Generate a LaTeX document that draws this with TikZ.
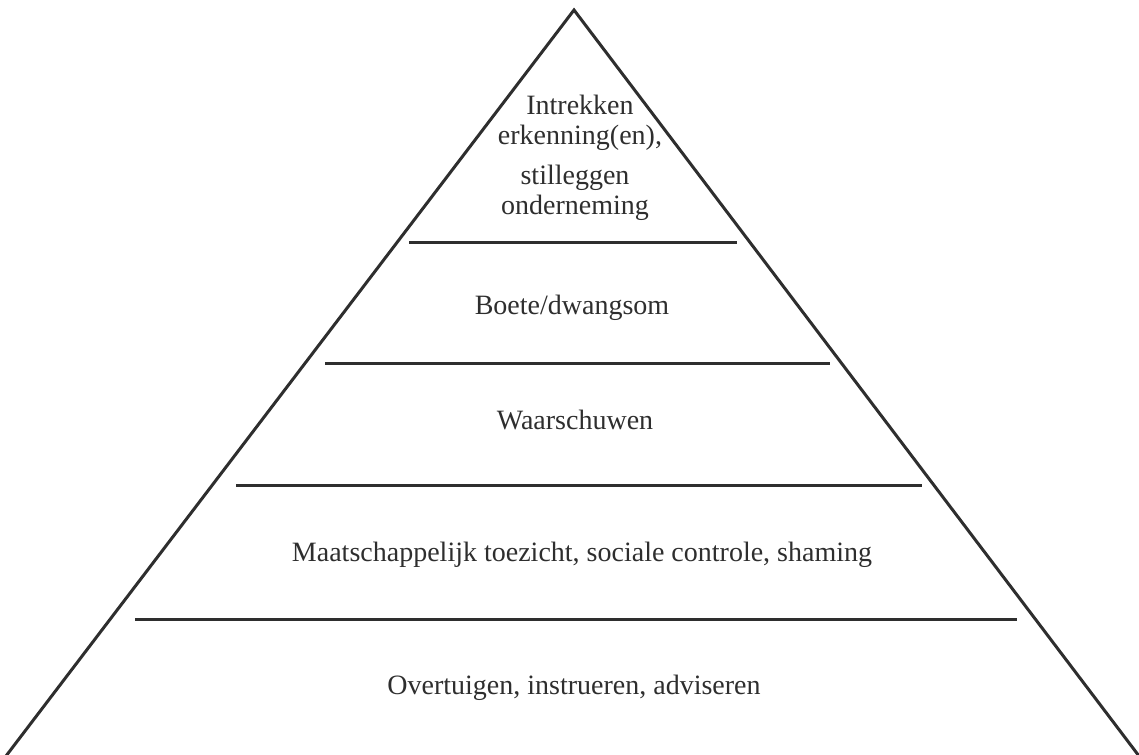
\documentclass[tikz,border=0pt]{standalone}
\usepackage{fontspec}
\setmainfont{Liberation Serif}
\definecolor{ink}{HTML}{2E2E2E}
\begin{document}
\begin{tikzpicture}[x=1pt,y=-1pt,
  edge/.style={draw=ink,line width=3pt},
  lbl/.style={text=ink,font=\fontsize{28}{30}\selectfont,inner sep=0pt,align=center}]
\useasboundingbox (0,0) rectangle (1139,754);
\coordinate (apex) at (574,10);
\coordinate (bl) at (6,756);
\coordinate (br) at (1139,756);
\draw[edge,line join=miter] (bl) -- (apex) -- (br);
\draw[edge] (409,242) -- (737,242);
\draw[edge] (325,363) -- (830,363);
\draw[edge] (236,485) -- (922,485);
\draw[edge] (135,619) -- (1017,619);
\node[lbl] (t1a) at (580,123) {Intrekken\\erkenning(en),};
\node[lbl] (t1b) at (575,193) {stilleggen\\onderneming};
\node[lbl] (t2) at (572,308) {Boete/dwangsom};
\node[lbl] (t3) at (575,420) {Waarschuwen};
\node[lbl] (t4) at (582,555) {Maatschappelijk toezicht, sociale controle, shaming};
\node[lbl] (t5) at (574,688) {Overtuigen, instrueren, adviseren};
\end{tikzpicture}
\end{document}
